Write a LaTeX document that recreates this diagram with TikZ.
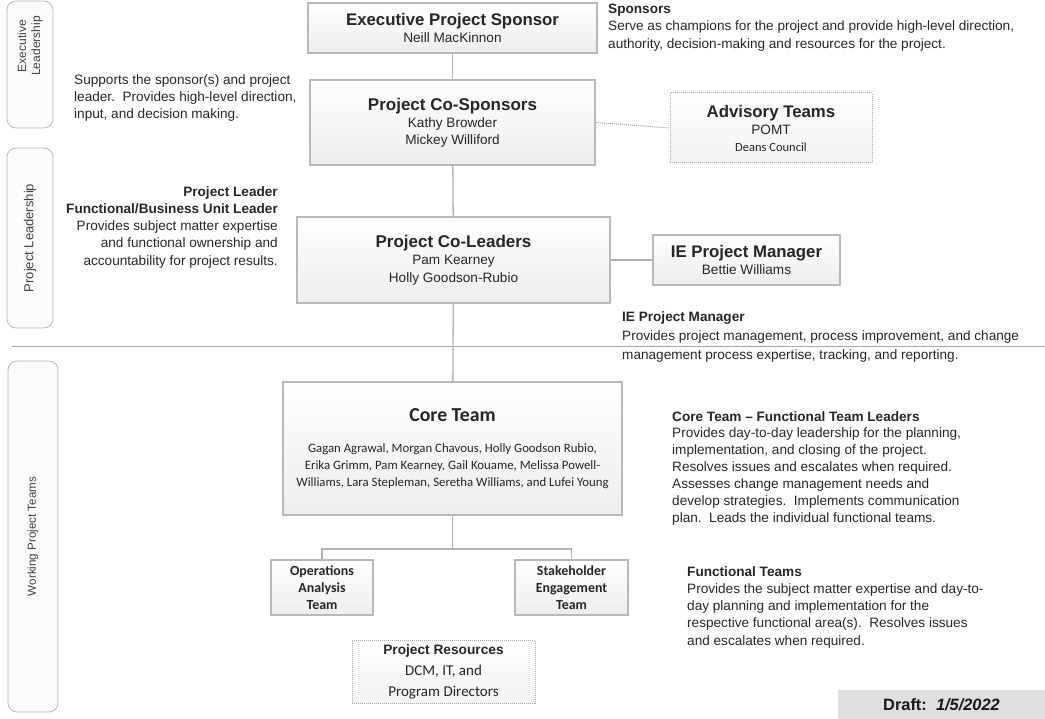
\documentclass[tikz,border=0pt]{standalone}
\usepackage{fontspec}
\setmainfont{Liberation Sans}
\newfontfamily\calfont{Carlito}
\usetikzlibrary{calc}

\begin{document}
\begin{tikzpicture}
[   x=1pt,y=-1pt,
    box/.style={draw=gray!55,line width=1.8pt,top color=white,bottom color=gray!14,inner sep=0pt,align=center,text=black!85,font=\fontsize{13.6}{17}\selectfont},
    dotbox/.style={draw=gray!65,line width=1pt,densely dotted,top color=white,bottom color=gray!10,inner sep=0pt,align=center,text=black!85,font=\fontsize{13.6}{17}\selectfont},
    side/.style={draw=gray!55,line width=0.8pt,rounded corners=9pt,fill=gray!3,rotate=90,inner sep=0pt,align=center,font=\fontsize{12}{14}\selectfont,text=black!75},
    sidetext/.style={rotate=90,inner sep=0pt,align=center,font=\fontsize{12}{14}\selectfont,text=black!75},
    link/.style={draw=gray!60,line width=1.3pt},
    note/.style={inner sep=0pt,text=black!85,font=\fontsize{13.6}{17.3}\selectfont}
]
    \useasboundingbox (0,0) rectangle (1045,719);
    % side bands
    \node[side,minimum width=127,minimum height=46] (EL) at (30,64.5) {};
        \node[sidetext] (ELt) at (30,46) {Executive\\Leadership};
    \node[side,minimum width=180,minimum height=46,font=\fontsize{13}{14}\selectfont] (PL) at (30,238) {Project Leadership};
    \node[side,minimum width=351,minimum height=50,font=\fontsize{11.6}{14}\selectfont] (WT) at (33,536.5) {Working Project Teams};
    \draw[gray!70,line width=0.8pt] (12,346) -- (1045,346);
    % boxes
    \node[box,minimum width=289,minimum height=50] (ES) at (452.5,28)
        {{\fontsize{16.8}{20}\selectfont\bfseries Executive Project Sponsor}\\Neill MacKinnon};
    \node[box,minimum width=285,minimum height=85] (CS) at (452.5,122.5)
        {{\fontsize{17}{20}\selectfont\bfseries Project Co-Sponsors}\\Kathy Browder\\Mickey Williford};
    \node[dotbox,minimum width=202,minimum height=70] (AT) at (771,128)
        {{\fontsize{16.8}{19}\selectfont\bfseries Advisory Teams}\\POMT\\{\calfont\fontsize{12.5}{14}\selectfont Deans Council}};
    \node[box,minimum width=313,minimum height=86] (CL) at (453.5,260)
        {{\fontsize{17}{19}\selectfont\bfseries Project Co-Leaders}\\Pam Kearney\\[1pt]Holly Goodson-Rubio};
    \node[box,minimum width=187,minimum height=50] (PM) at (746.5,260)
        {{\fontsize{16.8}{20}\selectfont\bfseries IE Project Manager}\\Bettie Williams};
    \node[box,minimum width=339,minimum height=133,font=\calfont\fontsize{12.8}{17}\selectfont] (CT) at (452.5,448.5)
        {{\fontsize{19.8}{22}\selectfont\bfseries Core Team}\\[14pt]Gagan Agrawal, Morgan Chavous, Holly Goodson Rubio,\\Erika Grimm, Pam Kearney, Gail Kouame, Melissa Powell-\\Williams, Lara Stepleman, Seretha Williams, and Lufei Young};
    \node[box,minimum width=102,minimum height=55,font=\calfont\fontsize{13.9}{17}\selectfont\bfseries] (OA) at (322,587.5) {Operations\\Analysis\\Team};
    \node[box,minimum width=113,minimum height=55,font=\calfont\fontsize{13.9}{17}\selectfont\bfseries] (SE) at (571.5,587.5) {Stakeholder\\Engagement\\Team};
    \node[dotbox,minimum width=183,minimum height=63,font=\calfont\fontsize{15}{21}\selectfont] (PR) at (443.5,671.5)
        {{\fontspec{Liberation Sans}\fontsize{13.7}{16}\selectfont\bfseries Project Resources}\\DCM, IT, and\\Program Directors};
    \node[fill=gray!25,minimum width=207,minimum height=29,inner sep=0pt,font=\fontsize{16.4}{18}\selectfont\bfseries,text=black!90] (DR) at (941.5,704.5)
        {Draft:\ \ \itshape 1/5/2022};
    % connectors
    \draw[link] (ES) -- (CS);
    \draw[link] (CS) -- (CL);
    \draw[draw=gray!70,line width=1pt,densely dotted] (CS.east) -- (AT.west);
    \draw[link] (CL.east) -- (PM.west);
    \draw[link] (CL) -- (CT);
    \draw[link] (CT.south) -- ++(0,33) coordinate (fork);
    \draw[link] (fork) -| (OA.north);
    \draw[link] (fork) -| (SE.north);
    % descriptions
    \node[note,anchor=north west,align=left] (NS) at (608,4)
        {\textbf{Sponsors}\\Serve as champions for the project and provide high-level direction,\\authority, decision-making and resources for the project.};
    \node[note,anchor=north west,align=left] (NC) at (74,74)
        {Supports the sponsor(s) and project\\leader.\ \ Provides high-level direction,\\input, and decision making.};
    \node[note,anchor=north east,align=right] (NL) at (278,186)
        {\textbf{Project Leader}\\\textbf{Functional/Business Unit Leader}\\Provides subject matter expertise\\and functional ownership and\\accountability for project results.};
    \node[note,anchor=north west,align=left,font=\fontsize{13.6}{19}\selectfont] (NM) at (622,311)
        {\textbf{IE Project Manager}\\Provides project management, process improvement, and change\\management process expertise, tracking, and reporting.};
    \node[note,anchor=north west,align=left,font=\fontsize{13.6}{16.9}\selectfont] (NT) at (672,411)
        {\textbf{Core Team -- Functional Team Leaders}\\Provides day-to-day leadership for the planning,\\implementation, and closing of the project.\\Resolves issues and escalates when required.\\Assesses change management needs and\\develop strategies.\ \ Implements communication\\plan.\ \ Leads the individual functional teams.};
    \node[note,anchor=north west,align=left] (NF) at (687,566)
        {\textbf{Functional Teams}\\Provides the subject matter expertise and day-to-\\day planning and implementation for the\\respective functional area(s).\ \ Resolves issues\\and escalates when required.};
\end{tikzpicture}
\end{document}
